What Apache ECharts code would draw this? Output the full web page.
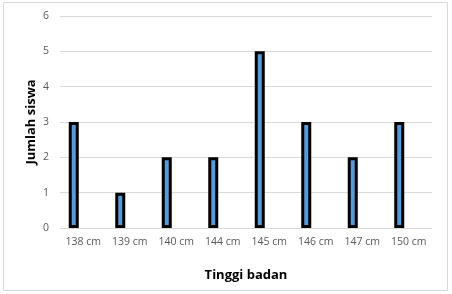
<!DOCTYPE html>
<html><head><meta charset="utf-8">
<style>html,body{margin:0;padding:0;background:#fff}#c{width:452px;height:294px}</style>
<script src="https://cdn.jsdelivr.net/npm/echarts@6/dist/echarts.min.js"></script>
</head><body><div id="c"></div>
<script>
const categories = ['138 cm','139 cm','140 cm','144 cm','145 cm','146 cm','147 cm','150 cm'];
const values = [3,1,2,2,5,3,2,3];
const emptySeries = [null,null,null,null,null,null,null,null];
const yTicks = [0,1,2,3,4,5,6];

const chart = echarts.init(document.getElementById('c'), null, {renderer:'canvas'});
chart.setOption({
  animation:false,
  graphic:[{type:'rect',shape:{x:3.5,y:2.5,width:444,height:288},style:{fill:'none',stroke:'#d9d9d9',lineWidth:1},silent:true}],
  grid:{left:60,right:20,top:16,bottom:66,containLabel:false},
  xAxis:{type:'category',data:categories,
    axisLine:{show:true,lineStyle:{color:'#d9d9d9'}},axisTick:{show:false},
    axisLabel:{color:'#595959',fontFamily:'Open Sans',fontSize:10.5,margin:9},
    name:'Tinggi badan',nameLocation:'middle',nameGap:41,nameMoveOverlap:false,
    nameTextStyle:{fontFamily:'Open Sans',fontWeight:'bold',fontSize:13,color:'#000'}},
  yAxis:{type:'value',min:yTicks[0],max:yTicks[yTicks.length-1],interval:1,
    axisLine:{show:false},axisTick:{show:false},
    splitLine:{lineStyle:{color:'#d9d9d9'}},
    axisLabel:{color:'#595959',fontFamily:'Open Sans',fontSize:10.5,margin:11},
    name:'Jumlah siswa',nameLocation:'middle',nameGap:22,nameMoveOverlap:false,
    nameTextStyle:{fontFamily:'Open Sans',fontWeight:'bold',fontSize:13,color:'#000'}},
  series:[
    {type:'bar',data:values,barWidth:10,barGap:'90%',
     itemStyle:{color:'#5b9bd5',borderColor:'#000',borderWidth:3}},
    {type:'bar',data:emptySeries,barWidth:10}
  ]
});
</script></body></html>
